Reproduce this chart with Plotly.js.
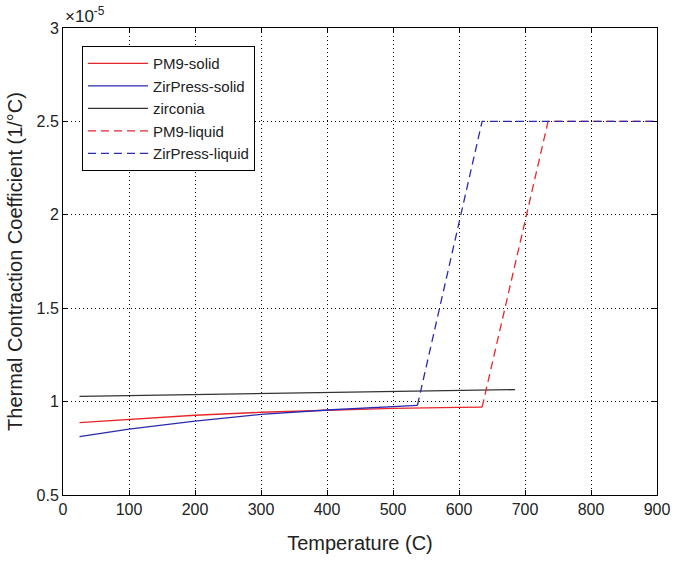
<!DOCTYPE html>
<html>
<head>
<meta charset="utf-8">
<script src="https://cdn.plot.ly/plotly-3.0.1.min.js"></script>
<style>
  html, body { margin: 0; padding: 0; background: #fff; }
  #chart { width: 675px; height: 561px; }
</style>
</head>
<body>
<div id="chart"></div>
<script>
const FONT = "Liberation Sans, Arial, sans-serif";
const RED = "#e8262a";
const BLUE = "#2a2ab0";

// values in units of 1e-5 per degC
const pm9SolidT = [25, 100, 200, 300, 400, 500, 600, 635];
const pm9SolidA = [0.887, 0.905, 0.927, 0.943, 0.955, 0.964, 0.969, 0.970];

const zirSolidT = [25, 100, 200, 300, 400, 500, 537];
const zirSolidA = [0.812, 0.853, 0.895, 0.932, 0.955, 0.972, 0.980];

const zirconiaT = [25, 685];
const zirconiaA = [1.028, 1.064];

const pm9LiquidT = [635, 735, 900];
const pm9LiquidA = [0.970, 2.5, 2.5];

const zirLiquidT = [537, 635, 900];
const zirLiquidA = [0.980, 2.5, 2.5];

const xTicks = [0, 100, 200, 300, 400, 500, 600, 700, 800, 900];
const yTicks = [0.5, 1, 1.5, 2, 2.5, 3];
const yTickText = ["0.5", "1", "1.5", "2", "2.5", "3"];

const traces = [
    { name: "PM9-solid", x: pm9SolidT, y: pm9SolidA, line: { color: RED, width: 1.3 } },
    { name: "ZirPress-solid", x: zirSolidT, y: zirSolidA, line: { color: BLUE, width: 1.3 } },
    { name: "zirconia", x: zirconiaT, y: zirconiaA, line: { color: "#333333", width: 1.3 } },
    { name: "PM9-liquid", x: pm9LiquidT, y: pm9LiquidA, line: { color: RED, width: 1.3, dash: "8px,5px" } },
    { name: "ZirPress-liquid", x: zirLiquidT, y: zirLiquidA, line: { color: BLUE, width: 1.3, dash: "8px,5px" } },
].map((t) => ({ ...t, type: "scatter", mode: "lines" }));

const axisBase = {
    showline: true,
    mirror: "ticks",
    linecolor: "#000",
    linewidth: 1,
    ticks: "inside",
    ticklen: 5,
    tickcolor: "#000",
    showgrid: true,
    gridcolor: "#000",
    griddash: "1px,3px",
    gridwidth: 1,
    zeroline: false,
    tickfont: { family: FONT, size: 16, color: "#222" },
};

const layout = {
    width: 675,
    height: 561,
    margin: { l: 63, r: 18, t: 28, b: 66 },
    paper_bgcolor: "#fff",
    plot_bgcolor: "#fff",
    font: { family: FONT, color: "#222" },
    showlegend: true,
    legend: {
        x: 0.032, y: 0.961, xanchor: "left", yanchor: "top",
        bgcolor: "#fff", bordercolor: "#000", borderwidth: 1,
        font: { family: FONT, size: 15, color: "#222" },
        tracegroupgap: 0,
        itemwidth: 60,
    },
    xaxis: {
        ...axisBase,
        range: [0, 900],
        tickvals: xTicks,
        title: { text: "Temperature (C)", font: { family: FONT, size: 20, color: "#222" }, standoff: 18 },
    },
    yaxis: {
        ...axisBase,
        range: [0.5, 3],
        tickvals: yTicks,
        ticktext: yTickText,
        title: { text: "Thermal Contraction Coefficient (1/°C)", font: { family: FONT, size: 20, color: "#222" }, standoff: 8 },
    },
    annotations: [{
        xref: "paper", yref: "paper", x: 0, y: 1, xanchor: "left", yanchor: "bottom",
        text: "×10<sup>-5</sup>", showarrow: false,
        font: { family: FONT, size: 17, color: "#222" },
    }],
};

Plotly.newPlot("chart", traces, layout, { displayModeBar: false, staticPlot: true });
</script>
</body>
</html>
